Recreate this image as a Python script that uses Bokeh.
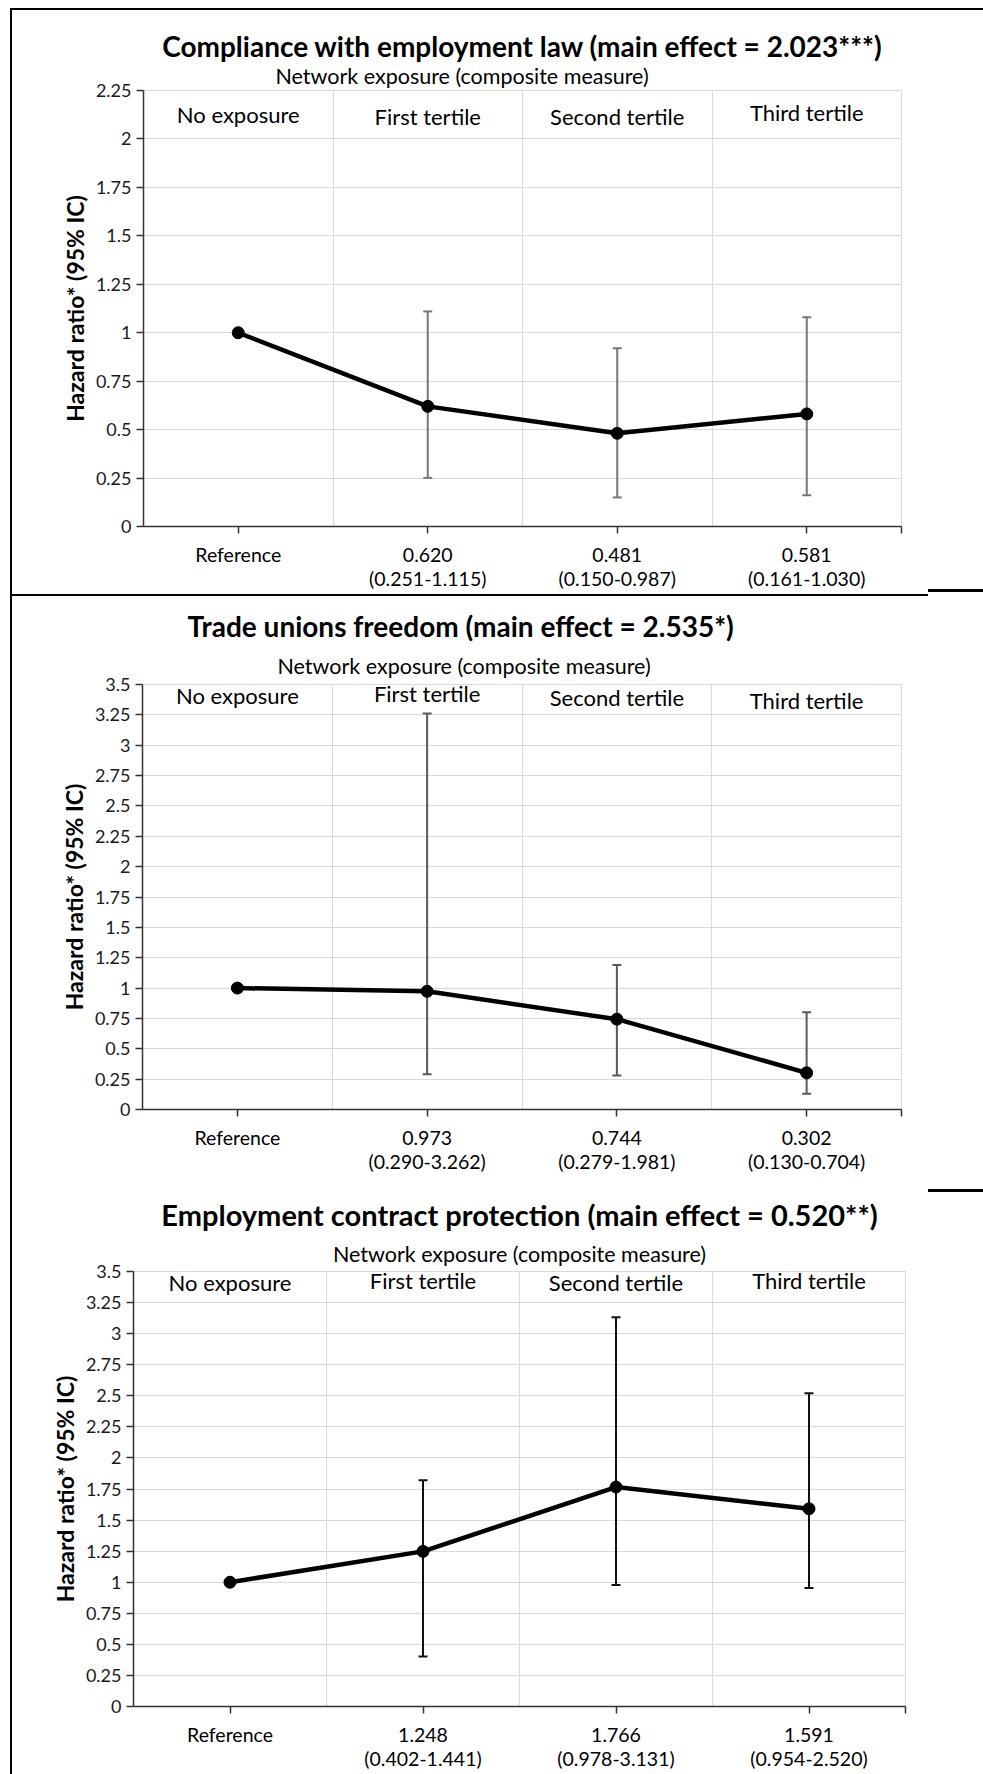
from bokeh.plotting import figure
from bokeh.models import ColumnDataSource, FixedTicker, Range1d, Whisker, TeeHead, Title, Spacer
from bokeh.layouts import column, row
from bokeh.embed import file_html
from bokeh.resources import INLINE
from bokeh.core.properties import value

FONT = "Lato"

groups = ["No exposure", "First tertile", "Second tertile", "Third tertile"]
subtitle = "Network exposure (composite measure)"
y_axis_label = "Hazard ratio* (95% IC)"

# ---- Chart 1 ----
t1 = "Compliance with employment law (main effect = 2.023***)"
hr1 = [1.0, 0.620, 0.481, 0.581]
lo1 = [0.251, 0.150, 0.161]
hi1 = [1.11, 0.92, 1.08]
xl1 = ["Reference", "0.620\n(0.251-1.115)", "0.481\n(0.150-0.987)", "0.581\n(0.161-1.030)"]
yt1 = [0, 0.25, 0.5, 0.75, 1, 1.25, 1.5, 1.75, 2, 2.25]
yl1 = ["0", "0.25", "0.5", "0.75", "1", "1.25", "1.5", "1.75", "2", "2.25"]

# ---- Chart 2 ----
t2 = "Trade unions freedom (main effect = 2.535*)"
hr2 = [1.0, 0.973, 0.744, 0.302]
lo2 = [0.290, 0.279, 0.130]
hi2 = [3.262, 1.19, 0.80]
xl2 = ["Reference", "0.973\n(0.290-3.262)", "0.744\n(0.279-1.981)", "0.302\n(0.130-0.704)"]
yt2 = [0, 0.25, 0.5, 0.75, 1, 1.25, 1.5, 1.75, 2, 2.25, 2.5, 2.75, 3, 3.25, 3.5]
yl2 = ["0", "0.25", "0.5", "0.75", "1", "1.25", "1.5", "1.75", "2", "2.25", "2.5", "2.75", "3", "3.25", "3.5"]

# ---- Chart 3 ----
t3 = "Employment contract protection (main effect = 0.520**)"
hr3 = [1.0, 1.248, 1.766, 1.591]
lo3 = [0.402, 0.978, 0.954]
hi3 = [1.82, 3.131, 2.520]
xl3 = ["Reference", "1.248\n(0.402-1.441)", "1.766\n(0.978-3.131)", "1.591\n(0.954-2.520)"]
yt3 = yt2
yl3 = yl2

FULL_W = 971
NARROW_W = 916


def make_chart(title, hr, lo, hi, xlabels, yticks, ylabels, err_color, width, height,
               b_left, b_right, b_top, b_bottom, title_pos, sub_pos,
               title_standoff, sub_standoff, head_nudge, title_size="28px"):
    n = len(hr)
    xs = [i + 0.5 for i in range(n)]
    p = figure(width=width, height=height, x_range=Range1d(0, n),
               y_range=Range1d(yticks[0], yticks[-1]),
               output_backend="svg", toolbar_location=None,
               min_border_left=b_left, min_border_right=b_right,
               min_border_top=b_top, min_border_bottom=b_bottom)
    p.background_fill_color = "white"
    p.border_fill_color = "white"
    p.outline_line_color = "#d9d9d9"
    p.outline_line_width = 1

    sub = Title(text=subtitle, align="center" if sub_pos is None else "left",
                offset=0 if sub_pos is None else sub_pos,
                text_font=FONT, text_font_size="21.5px", text_font_style="normal",
                text_color="black", standoff=sub_standoff)
    p.add_layout(sub, "above")
    p.title.text = title
    p.title.align = "center" if title_pos is None else "left"
    p.title.offset = 0 if title_pos is None else title_pos
    p.title.standoff = title_standoff
    p.title.text_font = FONT
    p.title.text_font_size = title_size
    p.title.text_font_style = "bold"
    p.title.text_color = "black"

    # grid
    p.xgrid.ticker = FixedTicker(ticks=list(range(1, n)))
    p.ygrid.ticker = FixedTicker(ticks=yticks)
    p.xgrid.grid_line_color = "#d9d9d9"
    p.ygrid.grid_line_color = "#d9d9d9"
    p.xgrid.grid_line_width = 1
    p.ygrid.grid_line_width = 1

    # axes
    xa = p.xaxis[0]
    xa.ticker = FixedTicker(ticks=xs + [n])
    ov = {x: lab for x, lab in zip(xs, xlabels)}
    ov[n] = ""
    xa.major_label_overrides = ov
    xa.major_label_text_font = FONT
    xa.major_label_text_font_size = "19.5px"
    xa.major_label_text_color = "black"
    xa.major_label_text_line_height = 1.07
    xa.major_label_standoff = 9

    ya = p.yaxis[0]
    ya.ticker = FixedTicker(ticks=yticks)
    ya.major_label_overrides = {t: s for t, s in zip(yticks, ylabels)}
    ya.major_label_text_font = FONT
    ya.major_label_text_font_size = "18px"
    ya.major_label_text_color = "#1a1a1a"
    ya.major_label_standoff = 5
    ya.axis_label = y_axis_label
    ya.axis_label_text_font = FONT
    ya.axis_label_text_font_size = "23px"
    ya.axis_label_text_font_style = "bold"
    ya.axis_label_text_color = "black"
    ya.axis_label_standoff = 4

    for ax in (xa, ya):
        ax.axis_line_color = "#333333"
        ax.axis_line_width = 1.5
        ax.major_tick_line_color = "#333333"
        ax.major_tick_line_width = 1.5
        ax.major_tick_in = 0
        ax.major_tick_out = 7
        ax.minor_tick_line_color = None

    # category headers in the top band
    band = yticks[-1] - (yticks[-1] - yticks[-2]) / 2
    p.text(x=xs, y=[band] * n, text=groups, text_align="center",
           text_baseline="middle", text_font=value(FONT),
           y_offset=head_nudge,
           text_font_size="22px", text_color="black")

    # error bars
    src = ColumnDataSource(dict(x=xs[1:], lo=lo, hi=hi))
    wk = Whisker(source=src, base="x", lower="lo", upper="hi",
                 line_color=err_color, line_width=2, level="underlay",
                 lower_head=TeeHead(size=9, line_color=err_color, line_width=2),
                 upper_head=TeeHead(size=9, line_color=err_color, line_width=2))
    p.add_layout(wk)

    p.line(xs, hr, line_width=4.5, line_color="black")
    p.scatter(xs, hr, size=12, fill_color="black", line_color="black")
    return p


p1 = make_chart(t1, hr1, lo1, hi1, xl1, yt1, yl1, "#777777", NARROW_W, 583,
                131, 27, 80, 67, None, 132, -8, 3.5, [0, 2, 2, -2])
p2 = make_chart(t2, hr2, lo2, hi2, xl2, yt2, yl2, "#5a5a5a", NARROW_W, 596,
                130, 27, 88, 83, 45, 135, 4.6, 10.5, [-4, -6, -2, 1])
p3 = make_chart(t3, hr3, lo3, hi3, xl3, yt3, yl3, "#111111", FULL_W, 582,
                121, 78, 76, 68, None, None, 4.7, 8.5, [-5, -7, -5, -7],
                title_size="29px")

BLACK = {"background-color": "#000000"}
side_w = FULL_W - NARROW_W

block1 = row(p1, column(Spacer(width=side_w, height=579),
                        Spacer(width=side_w, height=3, styles=BLACK),
                        Spacer(width=side_w, height=1)))
sep1 = column(Spacer(width=FULL_W, height=1),
              row(Spacer(width=NARROW_W, height=2, styles=BLACK),
                  Spacer(width=side_w, height=2)))
block2 = row(p2, column(Spacer(width=side_w, height=593),
                        Spacer(width=side_w, height=3, styles=BLACK)))

charts = column(Spacer(width=FULL_W, height=8),
                Spacer(width=FULL_W, height=2, styles=BLACK),
                block1, sep1, block2, p3)
left = column(Spacer(width=2, height=8), Spacer(width=2, height=1766, styles=BLACK))
page = row(Spacer(width=10, height=1774), left, charts)

open("out.html", "w").write(file_html(page, INLINE))
